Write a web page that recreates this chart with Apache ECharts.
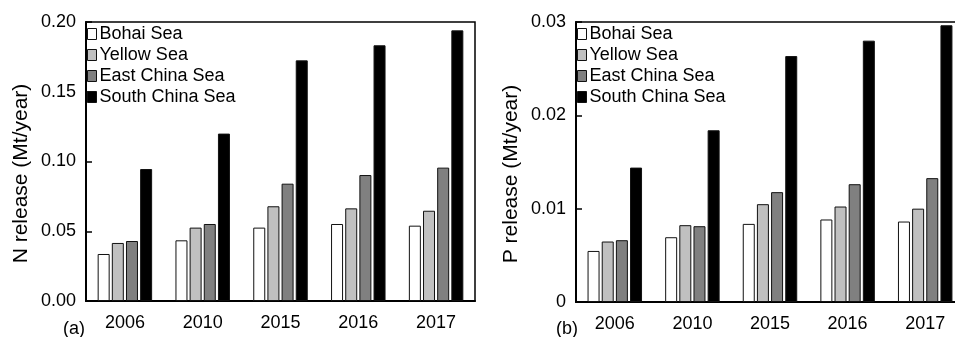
<!DOCTYPE html>
<html>
<head>
<meta charset="utf-8">
<script src="https://cdn.jsdelivr.net/npm/echarts@6/dist/echarts.min.js"></script>
<style>html,body{margin:0;padding:0;background:#fff;overflow:hidden}#c{width:955px;height:337px}</style>
</head>
<body>
<div id="c"></div>
<script>
const years = ['2006', '2010', '2015', '2016', '2017'];
const seas = ['Bohai Sea', 'Yellow Sea', 'East China Sea', 'South China Sea'];
const seaColors = ['#ffffff', '#c0c0c0', '#808080', '#000000'];
// N release (Mt/year)
const nBohai = [0.0337, 0.0435, 0.0526, 0.0552, 0.0540];
const nYellow = [0.0416, 0.0526, 0.0679, 0.0664, 0.0647];
const nEast = [0.0430, 0.0552, 0.0841, 0.0903, 0.0956];
const nSouth = [0.0946, 0.1200, 0.1725, 0.1833, 0.1940];
// P release (Mt/year)
const pBohai = [0.00547, 0.00694, 0.00837, 0.00884, 0.00862];
const pYellow = [0.00648, 0.00823, 0.01048, 0.01023, 0.01000];
const pEast = [0.00662, 0.00812, 0.01177, 0.01262, 0.01327];
const pSouth = [0.0144, 0.0184, 0.02635, 0.0280, 0.02965];
const nTicks = ['0.00', '0.05', '0.10', '0.15', '0.20'];
const pTicks = ['0', '0.01', '0.02', '0.03'];

const FONT = 'Liberation Sans, Arial, sans-serif';
const chart = echarts.init(document.getElementById('c'));
const nData = [nBohai, nYellow, nEast, nSouth];
const pData = [pBohai, pYellow, pEast, pSouth];

function mkSeries(data, idx) {
  return data.map((d, i) => ({
    name: seas[i], type: 'bar', xAxisIndex: idx, yAxisIndex: idx, data: d,
    barWidth: 12, barGap: '18%',
    itemStyle: { color: seaColors[i], borderColor: '#111', borderWidth: 1 },
    emphasis: { disabled: true }, animation: false
  }));
}
function mkX(gi) {
  return {
    type: 'category', gridIndex: gi, data: years,
    axisLine: { lineStyle: { color: '#000', width: 2 } },
    axisTick: { show: false },
    axisLabel: { color: '#000', fontSize: 18, fontFamily: FONT, margin: 13 }
  };
}
function mkY(gi, max, interval, ticks, name) {
  return {
    type: 'value', gridIndex: gi, min: 0, max: max, interval: interval,
    name: name, nameLocation: 'middle', nameGap: 54,
    nameTextStyle: { color: '#000', fontSize: 21, fontFamily: FONT, padding: [0, 24, 0, 0] },
    axisLine: { show: true, lineStyle: { color: '#000', width: 2 } },
    axisTick: { show: true, inside: true, length: 6, lineStyle: { color: '#000', width: 1.5 } },
    splitLine: { show: false },
    axisLabel: {
      color: '#000', fontSize: 18, fontFamily: FONT, margin: 10,
      formatter: v => ticks[Math.round(v / interval)]
    }
  };
}
function mkLegend(left) {
  return {
    data: seas, orient: 'vertical', left: left, top: 25, padding: 0,
    itemWidth: 9, itemHeight: 11, itemGap: 3,
    icon: 'rect', selectedMode: false,
    itemStyle: { borderColor: '#111', borderWidth: 1 },
    textStyle: { color: '#000', fontSize: 18, fontFamily: FONT, padding: [0, 0, 0, -2] }
  };
}

chart.setOption({
  animation: false,
  grid: [
    { left: 86, width: 389, top: 22, bottom: 36, outerBoundsMode: 'none', containLabel: false, show: true, borderColor: '#000', borderWidth: 1.5, backgroundColor: 'transparent' },
    { left: 576, width: 388, top: 22, bottom: 35, outerBoundsMode: 'none', containLabel: false, show: true, borderColor: '#000', borderWidth: 1.5, backgroundColor: 'transparent' }
  ],
  legend: [mkLegend(87), mkLegend(577)],
  xAxis: [mkX(0), mkX(1)],
  yAxis: [mkY(0, 0.2, 0.05, nTicks, 'N release (Mt/year)'), mkY(1, 0.03, 0.01, pTicks, 'P release (Mt/year)')],
  series: mkSeries(nData, 0).concat(mkSeries(pData, 1)),
  graphic: [
    { type: 'text', left: 63, top: 320, style: { text: '(a)', fontSize: 18, fontFamily: FONT, fill: '#000' } },
    { type: 'text', left: 556, top: 320, style: { text: '(b)', fontSize: 18, fontFamily: FONT, fill: '#000' } }
  ]
});
</script>
</body>
</html>
